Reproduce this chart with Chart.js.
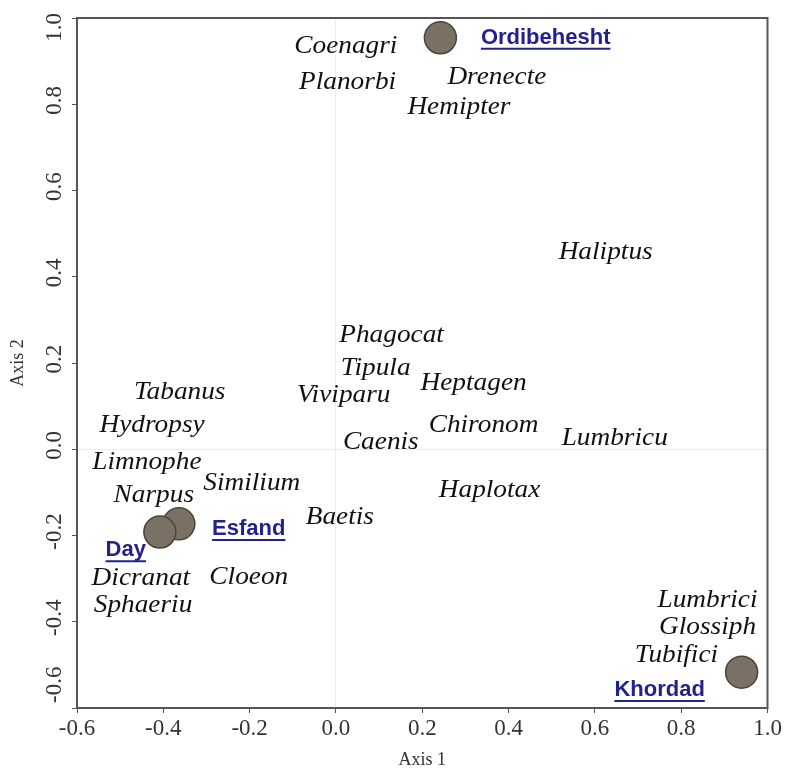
<!DOCTYPE html>
<html>
<head>
<meta charset="utf-8">
<script src="https://cdn.jsdelivr.net/npm/chart.js@4.4.1/dist/chart.umd.min.js"></script>
<style>
  html, body { margin: 0; padding: 0; background: #fff; }
  #wrap { width: 785px; height: 773px; }
</style>
</head>
<body>
<div id="wrap"><canvas id="ordination"></canvas></div>
<script>
// Sampling months (sites)
const siteNames = ['Ordibehesht', 'Khordad', 'Esfand', 'Day'];
const siteX = [0.242, 0.94, -0.364, -0.408];
const siteY = [0.954, -0.517, -0.173, -0.192];
// where each site name sits
const siteLabelX = [0.486, 0.75, -0.202, -0.487];
const siteLabelY = [0.954, -0.558, -0.185, -0.234];

// Taxa scores
const speciesNames = ['Coenagri', 'Planorbi', 'Drenecte', 'Hemipter', 'Haliptus', 'Phagocat', 'Tipula',
  'Heptagen', 'Viviparu', 'Tabanus', 'Hydropsy', 'Chironom', 'Caenis', 'Lumbricu', 'Limnophe',
  'Similium', 'Haplotax', 'Narpus', 'Baetis', 'Dicranat', 'Cloeon', 'Sphaeriu', 'Lumbrici',
  'Glossiph', 'Tubifici'];
const speciesX = [0.023, 0.027, 0.373, 0.285, 0.625, 0.129, 0.092, 0.319, 0.018, -0.362, -0.426,
  0.342, 0.104, 0.646, -0.438, -0.195, 0.356, -0.422, 0.009, -0.452, -0.202, -0.447, 0.861, 0.861, 0.789];
const speciesY = [0.935, 0.852, 0.863, 0.794, 0.457, 0.265, 0.188, 0.154, 0.126, 0.133, 0.056,
  0.056, 0.017, 0.026, -0.03, -0.078, -0.094, -0.106, -0.157, -0.299, -0.296, -0.361, -0.35, -0.412, -0.477];

const axisTicks = [-0.6, -0.4, -0.2, 0.0, 0.2, 0.4, 0.6, 0.8, 1.0];

const serif = '"Liberation Serif", "Times New Roman", serif';

// draws the frame, y tick labels, taxa names and site names
const labelPlugin = {
  id: 'labels',
  afterDatasetsDraw(chart) {
    const ctx = chart.ctx;
    const area = chart.chartArea;
    const xs = chart.scales.x, ys = chart.scales.y;
    ctx.save();
    ctx.strokeStyle = '#555';
    ctx.lineWidth = 2;
    ctx.strokeRect(area.left, area.top, area.right - area.left, area.bottom - area.top);

    // y tick labels, written upwards and kept inside the frame height
    ctx.fillStyle = '#333';
    ctx.font = '23px ' + serif;
    ctx.textAlign = 'center';
    ctx.textBaseline = 'middle';
    ys.ticks.forEach(t => {
      const txt = t.value.toFixed(1);
      const half = ctx.measureText(txt).width / 2;
      let cy = ys.getPixelForValue(t.value) - 4;
      cy = Math.max(cy, area.top + half - 5);
      cy = Math.min(cy, area.bottom - half - 5);
      ctx.save();
      ctx.translate(area.left - 22, cy);
      ctx.rotate(-Math.PI / 2);
      ctx.fillText(txt, 0, 0);
      ctx.restore();
    });

    // taxa
    const meta = chart.getDatasetMeta(1);
    ctx.fillStyle = '#111';
    ctx.font = 'italic 26px ' + serif;
    meta.data.forEach((pt, i) => {
      ctx.save();
      ctx.translate(pt.x, pt.y);
      ctx.scale(1.05, 1);
      ctx.fillText(speciesNames[i], 0, 0);
      ctx.restore();
    });

    // sites
    ctx.fillStyle = '#22228c';
    ctx.strokeStyle = '#22228c';
    ctx.font = 'bold 22px "Liberation Sans", Arial, sans-serif';
    siteNames.forEach((name, i) => {
      const px = xs.getPixelForValue(siteLabelX[i]);
      const py = ys.getPixelForValue(siteLabelY[i]);
      ctx.fillText(name, px, py);
      const w = ctx.measureText(name).width;
      ctx.lineWidth = 2;
      ctx.beginPath();
      ctx.moveTo(px - w / 2, py + 11);
      ctx.lineTo(px + w / 2, py + 11);
      ctx.stroke();
    });
    ctx.restore();
  }
};

const fixedTicks = scale => {
  scale.ticks = axisTicks.map(v => ({ value: v }));
};

new Chart(document.getElementById('ordination'), {
  type: 'scatter',
  data: {
    datasets: [{
      label: 'Sites',
      data: siteX.map((x, i) => ({ x: x, y: siteY[i] })),
      pointRadius: 16,
      pointHoverRadius: 16,
      backgroundColor: '#7b7064',
      borderColor: '#4a443d',
      borderWidth: 1.5
    }, {
      label: 'Taxa',
      data: speciesX.map((x, i) => ({ x: x, y: speciesY[i] })),
      pointRadius: 0,
      pointHoverRadius: 0
    }]
  },
  options: {
    responsive: true,
    maintainAspectRatio: false,
    animation: false,
    layout: { padding: { top: 18, right: 17, left: 0, bottom: 0 } },
    plugins: { legend: { display: false }, tooltip: { enabled: false } },
    scales: {
      x: {
        min: -0.6, max: 1.0,
        afterBuildTicks: fixedTicks,
        afterFit: scale => { scale.height = 65; },
        border: { display: false },
        grid: {
          drawOnChartArea: true,
          color: c => (c.tick && c.tick.value === 0 ? '#ececec' : 'rgba(0,0,0,0)'),
          tickColor: '#555',
          tickLength: 5
        },
        ticks: {
          color: '#333',
          font: { family: serif, size: 23 },
          padding: 2,
          maxRotation: 0,
          callback: v => v.toFixed(1)
        },
        title: {
          display: true, text: 'Axis 1', color: '#333',
          font: { family: serif, size: 18 },
          padding: { top: 0, bottom: 2 }
        }
      },
      y: {
        min: -0.6, max: 1.0,
        afterBuildTicks: fixedTicks,
        afterFit: scale => { scale.width = 77; },
        border: { display: false },
        grid: {
          drawOnChartArea: true,
          color: c => (c.tick && c.tick.value === 0 ? '#ececec' : 'rgba(0,0,0,0)'),
          tickColor: '#555',
          tickLength: 5
        },
        ticks: { display: false },
        title: {
          display: true, text: 'Axis 2', color: '#333',
          font: { family: serif, size: 18 },
          padding: { top: 7, bottom: 0 }
        }
      }
    }
  },
  plugins: [labelPlugin]
});
</script>
</body>
</html>
